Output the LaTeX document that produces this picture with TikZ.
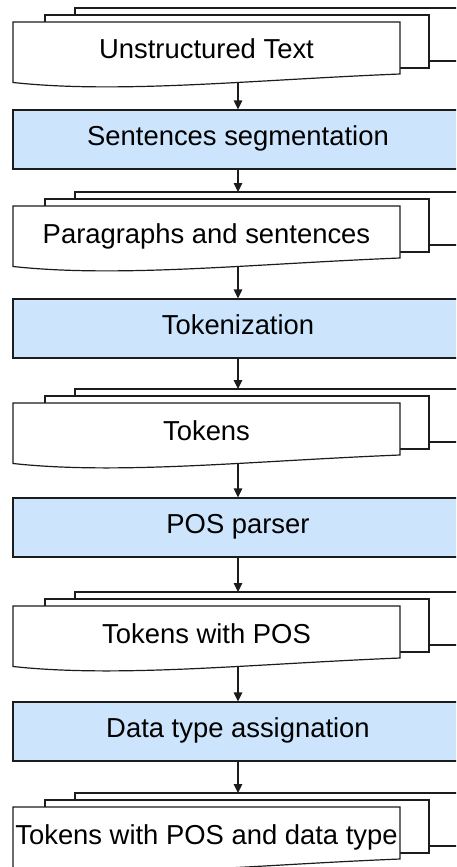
\documentclass[tikz,border=0pt]{standalone}
\usepackage{fontspec}
\setmainfont{Liberation Sans}
\usetikzlibrary{arrows.meta}

\definecolor{stepblue}{RGB}{204,229,253}
\definecolor{inkline}{RGB}{28,28,28}

\tikzset{
  sheet/.style={draw=inkline, line width=1.2pt, fill=white},
  stepbox/.style={draw=inkline, line width=1.2pt, fill=stepblue,
    minimum width=450pt, minimum height=59pt, inner sep=0pt,
    text height=20pt, text depth=9pt,
    font=\fontsize{27.4}{32}\selectfont},
  doclabel/.style={inner sep=0pt, anchor=base,
    font=\fontsize{27.4}{32}\selectfont},
  flow/.style={draw=inkline, line width=1.2pt,
    -{Triangle[length=9pt,width=8.5pt]}},
}

% A stack of three document sheets: #1 name, #2 top edge, #3 label
\newcommand{\docstack}[3]{%
  \draw[sheet] (75,#2) rectangle (470,#2+53);
  \draw[sheet] (45,#2+7) rectangle (429,#2+60);
  \draw[sheet] (13,#2+74.5) .. controls (120,#2+86) and (250,#2+72) ..
    (400,#2+66) -- (400,#2+14) -- (13,#2+14) -- cycle;
  \coordinate (#1-b) at (238,#2+73.5);
  \coordinate (#1-t) at (238,#2);
  \node[doclabel] (#1) at (206.5,#2+51) {#3};
}

\begin{document}
\begin{tikzpicture}[x=1pt,y=-1pt]
  \useasboundingbox (0,0) rectangle (456,867);
  \clip (0,0) rectangle (456,867);

  % documents
  \docstack{d1}{8}{Unstructured Text}
  \docstack{d2}{192}{Paragraphs and sentences}
  \docstack{d3}{389}{Tokens}
  \docstack{d4}{592}{Tokens with POS}
  \docstack{d5}{793}{Tokens with POS and data type}

  % processing steps
  \node[stepbox] (s1) at (238,139.5) {Sentences segmentation};
  \node[stepbox] (s2) at (238,328.5) {Tokenization};
  \node[stepbox] (s3) at (238,527.5) {POS parser};
  \node[stepbox] (s4) at (238,731.5) {Data type assignation};

  % flow
  \draw[flow] (d1-b) -- (s1.north);
  \draw[flow] (s1.south) -- (d2-t);
  \draw[flow] (d2-b) -- (s2.north);
  \draw[flow] (s2.south) -- (d3-t);
  \draw[flow] (d3-b) -- (s3.north);
  \draw[flow] (s3.south) -- (d4-t);
  \draw[flow] (d4-b) -- (s4.north);
  \draw[flow] (s4.south) -- (d5-t);
\end{tikzpicture}
\end{document}
